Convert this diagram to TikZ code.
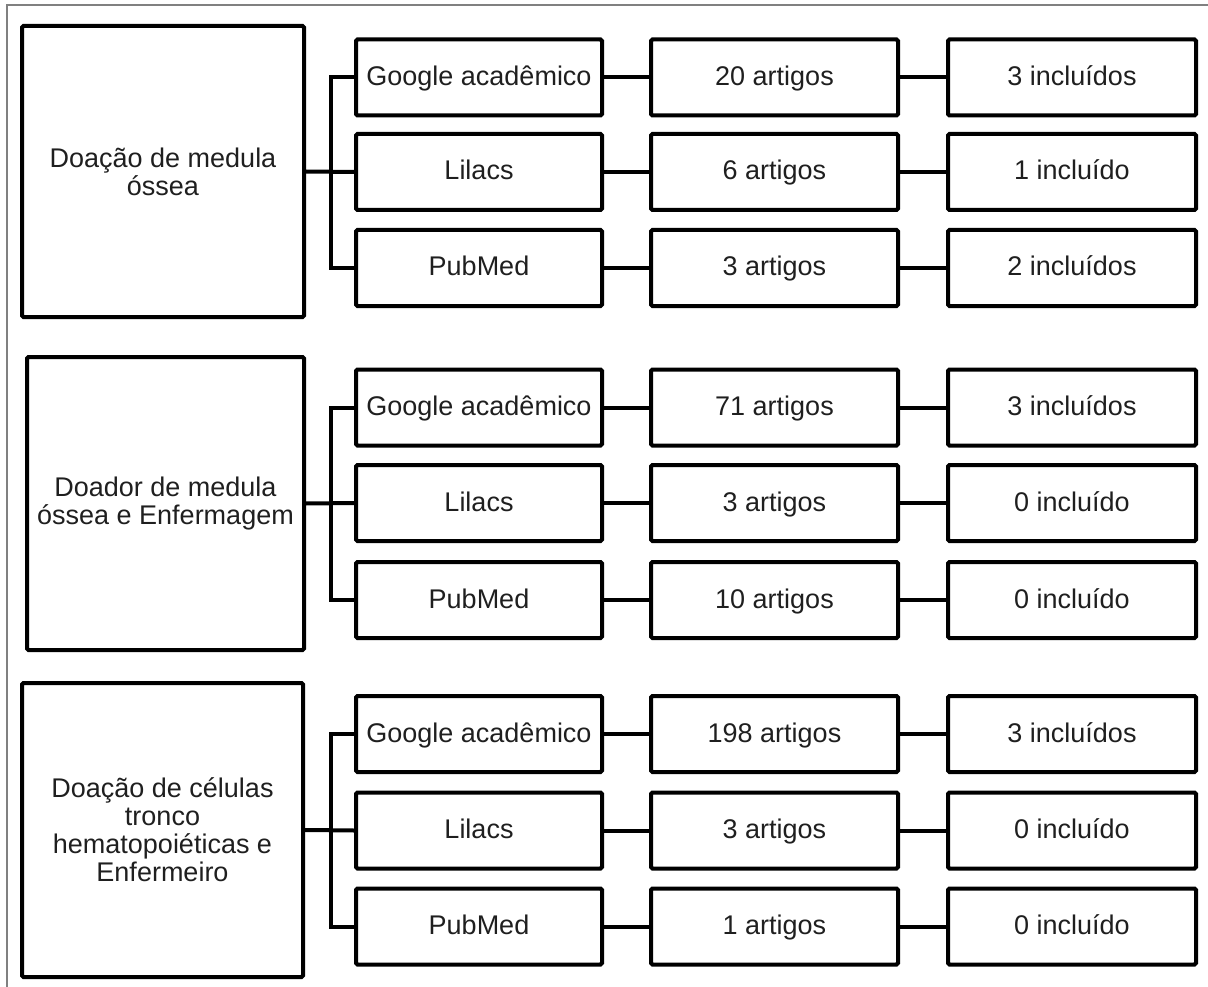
\documentclass[tikz,border=0pt]{standalone}
\usepackage{fontspec}
\setmainfont{Liberation Sans}
\tikzset{
  bx/.style={draw=black, line width=4pt, rounded corners=1.5pt, inner sep=0pt, align=center,
    font=\fontsize{27}{28}\selectfont, text=black!88},
  sb/.style={bx, text height=19pt, text depth=3pt},
  c1/.style={sb, minimum width=246pt, minimum height=76pt},
  c2/.style={sb, minimum width=247pt, minimum height=76pt},
  c3/.style={sb, minimum width=248pt, minimum height=76pt},
  ln/.style={line width=4pt, draw=black},
  frm/.style={draw=black!50, line width=1.5pt}
}
\begin{document}
\begin{tikzpicture}[x=1pt,y=-1pt]
\useasboundingbox (0,0) rectangle (1208,987);
\draw[frm] (7,987) -- (7,5) -- (1208,5);

% Group 1
\node[bx, minimum width=282pt, minimum height=291pt] (b1) at (163,171.5) {Doação de medula\\óssea};
\node[c1] (a11) at (479,77.5) {Google acadêmico};
\node[c1] (a12) at (479,172) {Lilacs};
\node[c1] (a13) at (479,268) {PubMed};
\node[c2] (n11) at (774.5,77.5) {20 artigos};
\node[c2] (n12) at (774.5,172) {6 artigos};
\node[c2] (n13) at (774.5,268) {3 artigos};
\node[c3] (r11) at (1072,77.5) {3 incluídos};
\node[c3] (r12) at (1072,172) {1 incluído};
\node[c3] (r13) at (1072,268) {2 incluídos};

% Group 2
\node[bx, minimum width=277pt, minimum height=293pt] (b2) at (165.5,503.5) {Doador de medula\\óssea e Enfermagem};
\node[c1] (a21) at (479,407.5) {Google acadêmico};
\node[c1] (a22) at (479,503) {Lilacs};
\node[c1] (a23) at (479,600) {PubMed};
\node[c2] (n21) at (774.5,407.5) {71 artigos};
\node[c2] (n22) at (774.5,503) {3 artigos};
\node[c2] (n23) at (774.5,600) {10 artigos};
\node[c3] (r21) at (1072,407.5) {3 incluídos};
\node[c3] (r22) at (1072,503) {0 incluído};
\node[c3] (r23) at (1072,600) {0 incluído};

% Group 3
\node[bx, minimum width=281pt, minimum height=294pt] (b3) at (162.5,830) {Doação de células\\tronco\\hematopoiéticas e\\Enfermeiro};
\node[c1] (a31) at (479,734) {Google acadêmico};
\node[c1] (a32) at (479,830.5) {Lilacs};
\node[c1] (a33) at (479,926.5) {PubMed};
\node[c2] (n31) at (774.5,734) {198 artigos};
\node[c2] (n32) at (774.5,830.5) {3 artigos};
\node[c2] (n33) at (774.5,926.5) {1 artigos};
\node[c3] (r31) at (1072,734) {3 incluídos};
\node[c3] (r32) at (1072,830.5) {0 incluído};
\node[c3] (r33) at (1072,926.5) {0 incluído};

\foreach \g in {1,2,3}{
  \draw[ln] (b\g.east) -- (a\g2.west);
  \draw[ln] (a\g1.west) -- ++(-23,0) |- (a\g3.west);
  \foreach \r in {1,2,3}{
    \draw[ln] (a\g\r.east) -- (n\g\r.west);
    \draw[ln] (n\g\r.east) -- (r\g\r.west);
  }
}
\end{tikzpicture}
\end{document}
